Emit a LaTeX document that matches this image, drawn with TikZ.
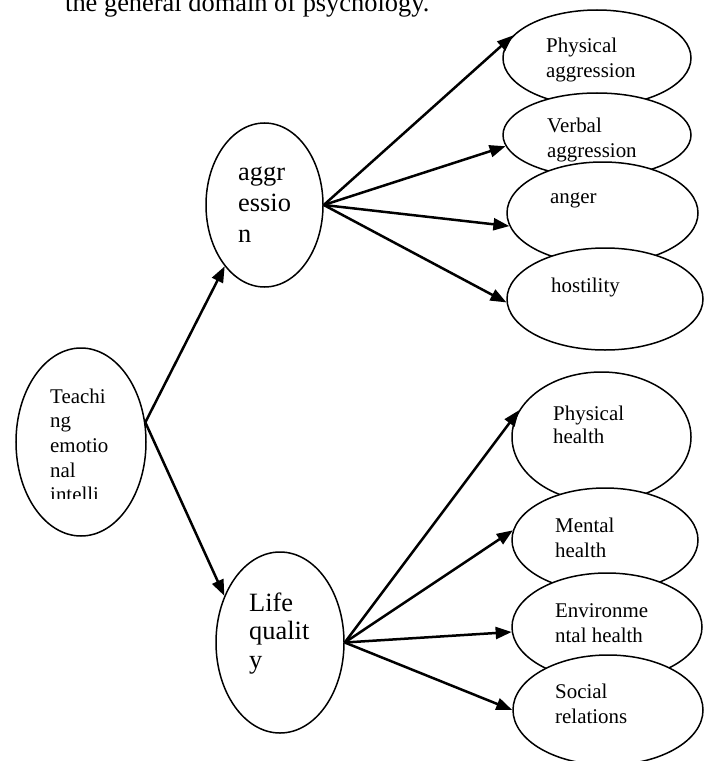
\documentclass[tikz,border=0pt]{standalone}
\usepackage{fontspec}
\setmainfont{Liberation Serif}
\usetikzlibrary{arrows.meta, shapes.geometric, positioning}

\begin{document}
\begin{tikzpicture}[x=1bp, y=-1bp,
  oval/.style={ellipse, draw, line width=1.5bp, fill=white, inner sep=0pt},
  small/.style={anchor=base west, inner sep=0pt, align=left, font=\fontsize{21}{25}\selectfont},
  big/.style={anchor=base west, inner sep=0pt, align=left, font=\fontsize{26.5}{31}\selectfont},
  link/.style={line width=2.5bp, -{Triangle[length=16bp, width=12bp]}}]
\useasboundingbox (0,0) rectangle (705,761);

% Caption line (cut at the top)
\node[big] (caption) at (65,12) {the general domain of psychology.};

% Left and middle ovals
\node[oval, minimum width=130bp, minimum height=188bp] (teach) at (81,442) {};
\begin{scope}
\clip (0,340) rectangle (200,498);
\node[small, font=\fontsize{21}{24.7}\selectfont] (teachtxt) at (50,501.8) {Teachi\\ng\\emotio\\nal\\intelli};
\end{scope}

\node[oval, minimum width=117bp, minimum height=164bp] (aggr) at (264.5,205) {};
\node[big] (aggrtxt) at (238,242) {aggr\\essio\\n};

\node[oval, minimum width=128bp, minimum height=181bp] (life) at (280,642.5) {};
\node[big, font=\fontsize{26.5}{28.5}\selectfont] (lifetxt) at (249,668) {Life\\qualit\\y};

% Aggression ovals
\node[oval, minimum width=188bp, minimum height=96bp] (pagg) at (597,58) {};
\node[small] (paggtxt) at (546,77) {Physical\\aggression};
\node[oval, minimum width=188bp, minimum height=84bp] (vagg) at (597,135) {};
\node[small] (vaggtxt) at (547,157) {Verbal\\aggression};
\node[oval, minimum width=191bp, minimum height=102bp] (anger) at (602.5,213) {};
\node[small] (angertxt) at (550,203) {anger};
\node[oval, minimum width=196bp, minimum height=102bp] (host) at (605,299) {};
\node[small] (hosttxt) at (551,292) {hostility};

% Life quality ovals
\node[oval, minimum width=179bp, minimum height=130bp] (phys) at (601.5,437) {};
\node[small, font=\fontsize{21}{23.5}\selectfont] (phystxt) at (553,443.5) {Physical\\health};
\node[oval, minimum width=186bp, minimum height=104bp] (ment) at (605,540) {};
\node[small] (menttxt) at (555,557) {Mental\\health};
\node[oval, minimum width=190bp, minimum height=108bp] (env) at (607,627) {};
\node[small] (envtxt) at (555,642) {Environme\\ntal health};
\node[oval, minimum width=190bp, minimum height=110bp] (soc) at (608,710) {};
\node[small] (soctxt) at (555,723) {Social\\relations};

% Arrows
\draw[link] (teach.17) -- (aggr.237);
\draw[link] (teach.17) -- (life.140);

\draw[link] (aggr.east) -- (pagg.165);
\draw[link] (aggr.east) -- (vagg.187);
\draw[link] (aggr.east) -- (anger.188);
\draw[link] (aggr.east) -- (host.182);

\draw[link] (life.east) -- (phys.162);
\draw[link] (life.east) -- (ment.174);
\draw[link] (life.east) -- (env.183);
\draw[link] (life.east) -- (soc.180);

\end{tikzpicture}
\end{document}
